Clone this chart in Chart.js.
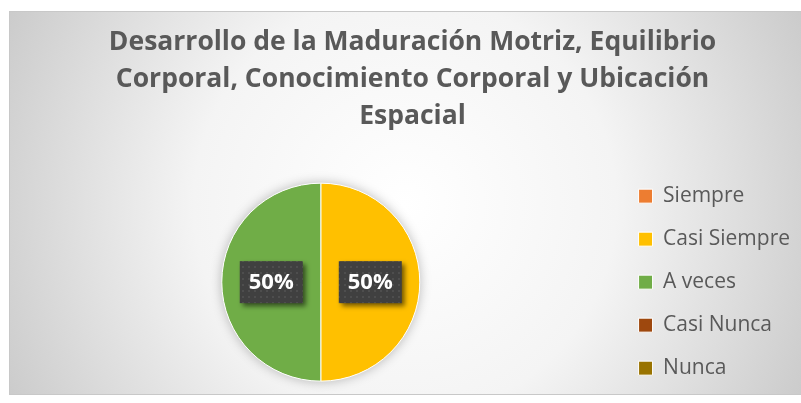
<!DOCTYPE html>
<html>
<head>
<meta charset="utf-8">
<script src="https://cdn.jsdelivr.net/npm/chart.js@4"></script>
<style>
  html, body { margin: 0; padding: 0; background: #fff; }
  #wrap { width: 801px; height: 403px; }
</style>
</head>
<body>
<div id="wrap"><canvas id="myChart" width="801" height="403"></canvas></div>
<script>
// datos del grafico
const categorias = ['Siempre', 'Casi Siempre', 'A veces', 'Casi Nunca', 'Nunca'];
const porcentajes = [0, 50, 50, 0, 0];
const colores = ['#ED7D31', '#FFC000', '#70AD47', '#9E480E', '#997300'];
const titulo = [
  'Desarrollo de la Maduración Motriz, Equilibrio',
  'Corporal, Conocimiento Corporal y Ubicación',
  'Espacial'
];

const fuente = '"Open Sans", Lato, sans-serif';

// fondo con degradado radial y borde
const fondo = {
  id: 'fondo',
  beforeDraw(chart) {
    const c = chart.ctx;
    c.save();
    c.fillStyle = '#fff';
    c.fillRect(0, 0, chart.width, chart.height);
    const g = c.createRadialGradient(405, 205, 0, 405, 205, 470);
    g.addColorStop(0, '#ffffff');
    g.addColorStop(0.45, '#f4f4f4');
    g.addColorStop(1, '#c6c6c6');
    c.fillStyle = g;
    c.fillRect(9, 11, 792, 384);
    c.strokeStyle = '#c8c8c8';
    c.lineWidth = 1;
    c.strokeRect(9.5, 11.5, 800, 383);
    c.restore();
  },
  beforeDatasetsDraw(chart) {
    // sombra suave debajo del pastel
    const arc = chart.getDatasetMeta(0).data[0];
    if (!arc) return;
    const c = chart.ctx;
    c.save();
    c.shadowColor = 'rgba(0,0,0,0.28)';
    c.shadowBlur = 12;
    c.fillStyle = '#fff';
    c.beginPath();
    c.arc(arc.x, arc.y, arc.outerRadius, 0, Math.PI * 2);
    c.fill();
    c.restore();
  }
};

// etiquetas de porcentaje con caja oscura
let patron = null;
function getPatron(c) {
  if (patron) return patron;
  const p = document.createElement('canvas');
  p.width = 6; p.height = 6;
  const pc = p.getContext('2d');
  pc.fillStyle = '#404040';
  pc.fillRect(0, 0, 6, 6);
  pc.fillStyle = '#4e4e4e';
  pc.fillRect(2, 2, 2, 2);
  patron = c.createPattern(p, 'repeat');
  return patron;
}

const etiquetas = {
  id: 'etiquetas',
  afterDatasetsDraw(chart) {
    const c = chart.ctx;
    const meta = chart.getDatasetMeta(0);
    const total = porcentajes.reduce((a, b) => a + b, 0);
    meta.data.forEach((arc, i) => {
      const v = porcentajes[i];
      if (!v) return;
      const p = arc.getProps(['x', 'y', 'startAngle', 'endAngle', 'outerRadius'], true);
      const mid = (p.startAngle + p.endAngle) / 2;
      const cx = p.x + Math.cos(mid) * p.outerRadius * 0.5;
      const cy = p.y + Math.sin(mid) * p.outerRadius * 0.5;
      const w = 63, h = 42;
      c.save();
      c.shadowColor = 'rgba(0,0,0,0.55)';
      c.shadowBlur = 5;
      c.shadowOffsetX = 3;
      c.shadowOffsetY = 3;
      c.fillStyle = getPatron(c);
      c.fillRect(cx - w / 2, cy - h / 2, w, h);
      c.restore();
      c.save();
      c.fillStyle = '#fff';
      c.font = 'bold 22px ' + fuente;
      c.textAlign = 'center';
      c.textBaseline = 'middle';
      c.fillText(Math.round(v / total * 100) + '%', cx, cy + 1);
      c.restore();
    });
  }
};

const ctx = document.getElementById('myChart');

new Chart(ctx, {
  type: 'pie',
  data: {
    labels: categorias,
    datasets: [{
      data: porcentajes,
      backgroundColor: colores,
      borderColor: '#ffffff',
      borderWidth: 1,
      radius: 99
    }]
  },
  options: {
    responsive: false,
    animation: false,
    layout: { padding: { left: 25, right: 1, top: 0, bottom: 0 } },
    plugins: {
      title: {
        display: true,
        text: titulo,
        color: '#595959',
        font: { family: fuente, size: 26.5, weight: 'bold', lineHeight: 1.4 },
        padding: { top: 24, bottom: 26 }
      },
      legend: {
        position: 'right',
        fullSize: false,
        labels: {
          color: '#595959',
          font: { family: fuente, size: 21 },
          boxWidth: 14,
          boxHeight: 14,
          padding: 22
        }
      },
      tooltip: { enabled: false }
    }
  },
  plugins: [fondo, etiquetas]
});
</script>
</body>
</html>
